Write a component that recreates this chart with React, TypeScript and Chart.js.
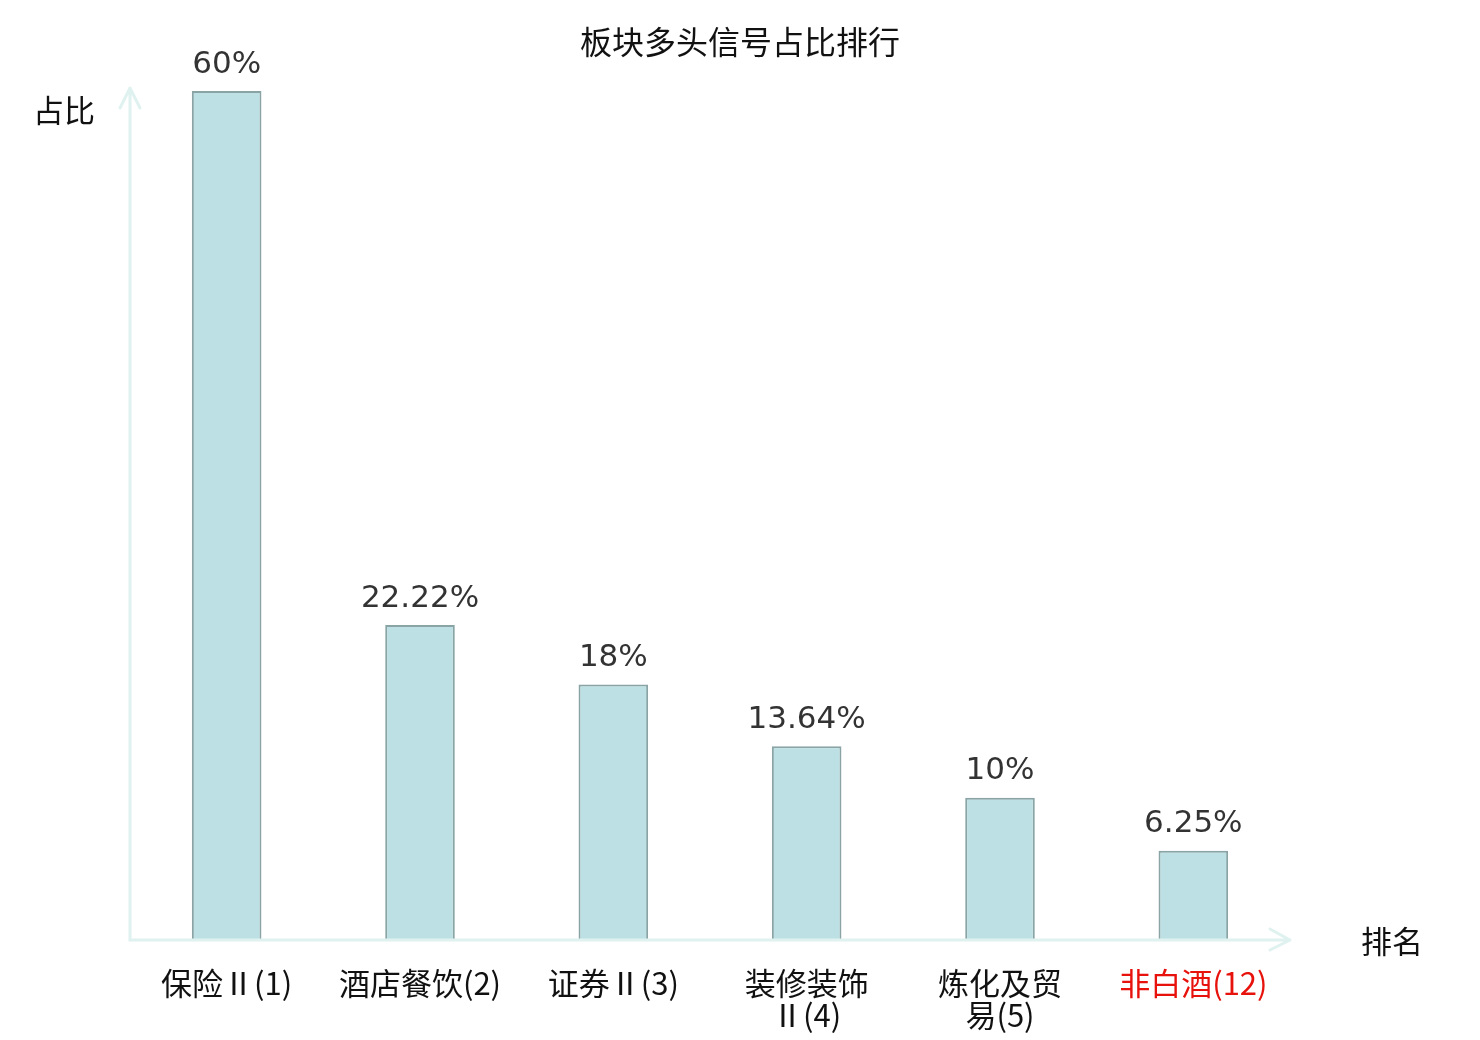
import { useEffect, useRef } from "react";
import Chart from "chart.js/auto";

const title = "板块多头信号占比排行";
const sectors = [
  ["保险Ⅱ(1)"],
  ["酒店餐饮(2)"],
  ["证券Ⅱ(3)"],
  ["装修装饰", "Ⅱ(4)"],
  ["炼化及贸", "易(5)"],
  ["非白酒(12)"],
];
const ratios = [60, 22.22, 18, 13.64, 10, 6.25];
const highlightIndex = 5;
const yName = "占比";
const xName = "排名";

const AXIS_C = "#dff2ef";
const FILL = "#bce0e3";
const EDGE = "#8aa4a6";
const CJK = "'Noto Sans CJK SC', 'Noto Sans', sans-serif";
const LATIN = "'DejaVu Sans', sans-serif";

const decorPlugin = {
  id: "decor",
  afterDatasetsDraw(chart: Chart) {
    const { ctx, chartArea } = chart;
    const { left, right, top, bottom } = chartArea;
    ctx.save();

    // axes with arrows
    ctx.strokeStyle = AXIS_C;
    ctx.lineWidth = 3;
    ctx.lineCap = "round";
    ctx.lineJoin = "round";
    const yTop = top - 3;
    ctx.beginPath();
    ctx.moveTo(left, bottom + 1);
    ctx.lineTo(left, yTop);
    ctx.moveTo(left - 10, yTop + 20);
    ctx.lineTo(left, yTop);
    ctx.lineTo(left + 10, yTop + 20);
    ctx.stroke();
    ctx.beginPath();
    ctx.moveTo(left, bottom + 1);
    ctx.lineTo(right, bottom + 1);
    ctx.moveTo(right - 20, bottom - 10);
    ctx.lineTo(right, bottom + 1);
    ctx.lineTo(right - 20, bottom + 11);
    ctx.stroke();

    // value labels
    const meta = chart.getDatasetMeta(0);
    ctx.fillStyle = "#333333";
    ctx.font = `31px ${LATIN}`;
    ctx.textAlign = "center";
    ctx.textBaseline = "bottom";
    meta.data.forEach((bar: any, i: number) => {
      ctx.fillText(`${ratios[i]}%`, bar.x, bar.y - 11);
    });

    // title and axis names
    ctx.fillStyle = "#111111";
    ctx.font = `32px ${CJK}`;
    ctx.textBaseline = "middle";
    ctx.fillText(title, 740, 42);
    ctx.font = `31px ${CJK}`;
    ctx.textAlign = "left";
    ctx.fillText(yName, 33, 110);
    ctx.fillText(xName, 1361, 941);
    ctx.restore();
  },
};

export default function App() {
  const canvasRef = useRef<HTMLCanvasElement>(null);

  useEffect(() => {
    document.body.style.margin = "0";
    if (!canvasRef.current) return;
    const chart = new Chart(canvasRef.current, {
      type: "bar",
      data: {
        labels: sectors,
        datasets: [
          {
            data: ratios,
            backgroundColor: FILL,
            borderColor: EDGE,
            borderWidth: 2,
            categoryPercentage: 1,
            barPercentage: 0.36,
          },
        ],
      },
      options: {
        responsive: false,
        animation: false,
        layout: { padding: { left: 130, right: 190, top: 91, bottom: 0 } },
        plugins: {
          legend: { display: false },
          tooltip: { enabled: false },
          title: { display: false },
        },
        scales: {
          x: {
            grid: { display: false, drawTicks: false },
            border: { display: false },
            ticks: {
              autoSkip: false,
              maxRotation: 0,
              padding: 28,
              font: { family: CJK, size: 31, lineHeight: 32 / 31 },
              color: (c: any) => (c.index === highlightIndex ? "#e8120c" : "#111111"),
            },
            afterFit: (scale: any) => {
              scale.height = 101;
            },
          },
          y: {
            display: false,
            min: 0,
            max: 60,
          },
        },
      },
      plugins: [decorPlugin],
    });
    return () => chart.destroy();
  }, []);

  return (
    <div style={{ width: 1480, height: 1040, background: "#fff" }}>
      <canvas ref={canvasRef} width={1480} height={1040} />
    </div>
  );
}
